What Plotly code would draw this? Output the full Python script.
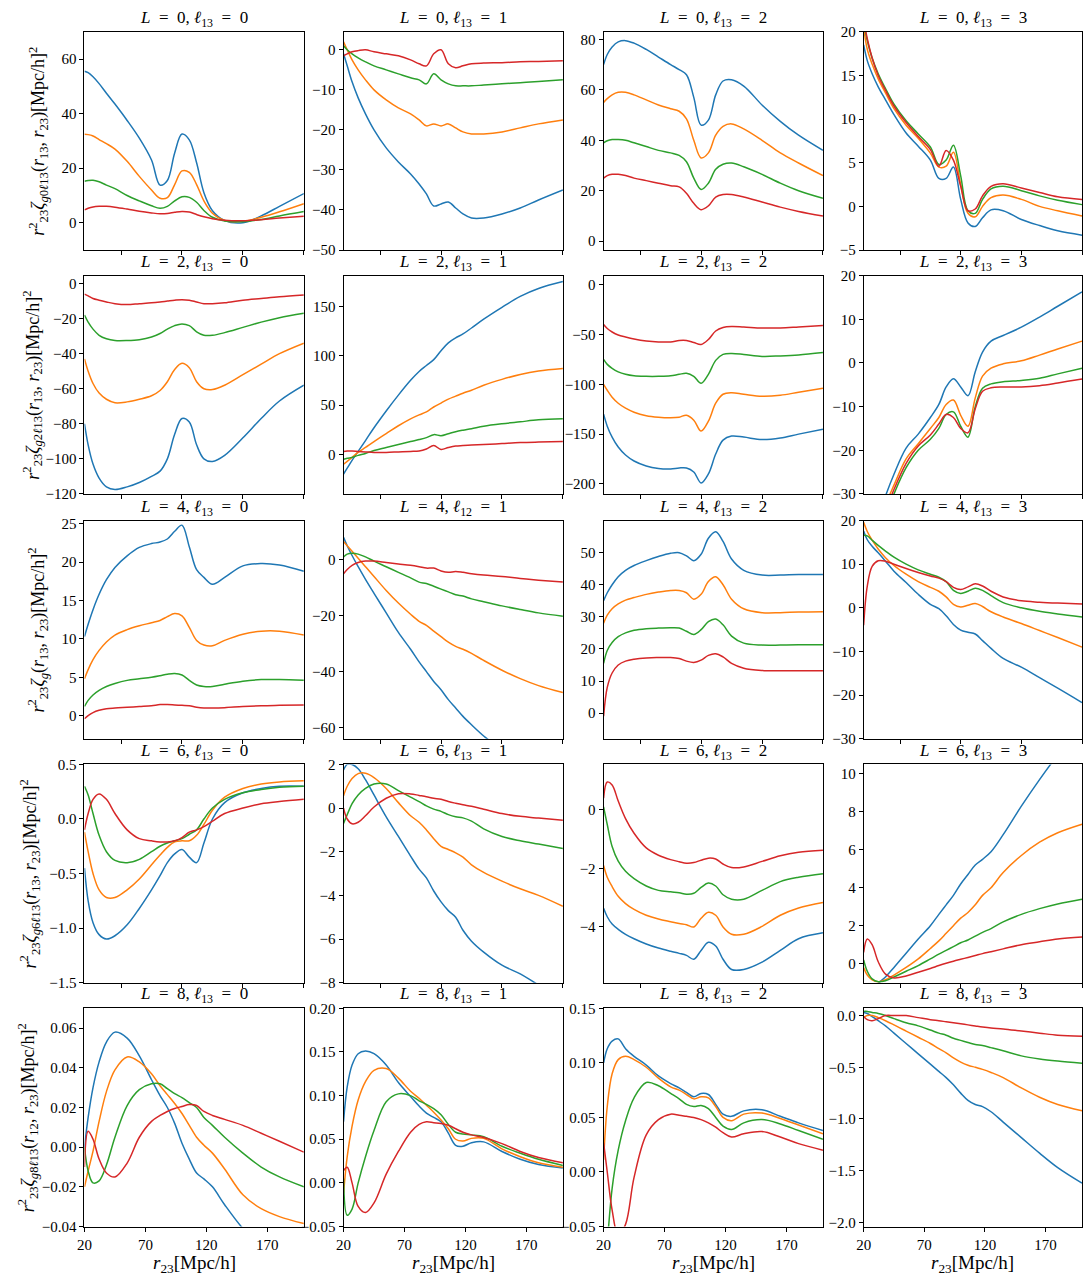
import plotly.graph_objects as go

# shared abscissa, r23 in Mpc/h
r23 = [20, 23, 27, 32, 38, 45, 55, 65, 75, 82, 88, 94, 100, 106, 112, 118, 125, 135, 150, 165, 180, 200]

# each panel: four series (blue, orange, green, red)
L0_l0 = [
    [55.5, 55.0, 53.5, 51.0, 47.5, 43.5, 37.5, 31.0, 23.0, 13.8, 15.5, 25.6, 32.5, 30.4, 22.0, 11.0, 4.4, 0.8, 0.0, 2.5, 6.0, 10.7],
    [32.4, 32.3, 31.8, 30.5, 29.0, 27.0, 22.5, 17.0, 12.0, 9.0, 9.2, 14.0, 19.0, 18.5, 14.0, 8.0, 3.5, 0.8, 0.5, 2.0, 4.0, 7.0],
    [15.2, 15.5, 15.6, 15.0, 13.8, 12.5, 10.0, 8.0, 6.2, 5.3, 6.0, 8.0, 9.5, 9.3, 7.5, 4.5, 2.0, 0.6, 0.4, 1.2, 2.5, 4.1],
    [4.7, 5.3, 5.8, 6.0, 6.0, 5.7, 5.0, 4.2, 3.6, 3.3, 3.4, 3.8, 4.1, 3.9, 3.0, 2.2, 1.5, 0.9, 0.7, 1.1, 1.7, 2.4],
]
L0_l1 = [
    [-1, -4, -8, -12, -16, -20, -24.5, -28, -31, -33.5, -36, -39, -38.5, -38, -39.5, -41, -42, -42, -41, -39.5, -37.5, -35],
    [2, 0, -2.5, -5, -7.5, -10, -12.5, -14.5, -16, -17.5, -19, -18.5, -19, -18.5, -19.5, -20.5, -21, -21, -20.5, -19.5, -18.5, -17.5],
    [1, 0, -1, -2, -3, -4, -5, -6, -7, -7.5, -8.5, -6, -7.5, -8.5, -9, -9, -9, -8.8, -8.5, -8.2, -7.9, -7.5],
    [-1.5, -1, -0.5, -0.2, 0, -0.5, -1, -1.5, -2.5, -3.5, -4, -1, 0, -3.5, -4.5, -4, -3.5, -3.3, -3.2, -3, -2.9, -2.7],
]
L0_l2 = [
    [70, 74, 77, 79, 79.5, 78.5, 76, 73, 70, 68, 66, 57, 46, 48, 58, 63.5, 64, 61.5, 54, 47.5, 42, 36],
    [55, 56.5, 58, 59, 59, 58, 56, 54, 52.5, 51.5, 48.5, 40, 33, 35, 42, 45.5, 46.5, 44.5, 40, 35, 31, 26],
    [39, 39.8, 40.3, 40.3, 40, 39, 37.5, 36, 35, 34, 31.5, 25, 20.5, 23, 28.5, 30.5, 31, 29.5, 26.5, 23, 20, 17],
    [25, 26, 26.5, 26.5, 26, 25, 24, 23, 22, 21.5, 19, 15, 12.5, 14, 17.5, 18.5, 18.5, 17.5, 15.5, 13.5, 11.8, 10],
]
L0_l3 = [
    [18.5, 16.7, 15.2, 13.7, 12.2, 10.5, 8.4, 6.9, 5.3, 3.2, 3.2, 4.5, 0.8, -1.9, -2.3, -1.3, -0.4, -0.5, -1.5, -2.2, -2.8, -3.3],
    [20.5, 18, 16.3, 14.6, 13, 11.2, 9.3, 7.8, 6.1, 4.5, 4.6, 6.2, 2.5, -0.8, -1.2, 0, 1, 1.3, 0.8, 0, -0.5, -1.1],
    [21, 19, 17, 15.2, 13.5, 11.7, 9.8, 8.3, 6.8, 4.8, 5.3, 7.0, 3.5, -0.5, -0.8, 0.8, 2, 2.3, 1.8, 1.2, 0.7, 0.2],
    [21.5, 19.2, 17, 15, 13.3, 11.5, 9.6, 8, 6.5, 4.6, 6.4, 5.3, 2.3, -0.5, -0.3, 1.2, 2.3, 2.6, 2.1, 1.6, 1.1, 0.8],
]
L2_l0 = [
    [-80, -92, -103, -111, -116, -117.5, -116, -113.5, -110, -107, -100, -86, -77, -79, -92, -100, -101.5, -98, -88, -77, -67, -58],
    [-43, -50, -57, -62.5, -66, -68, -67.5, -66, -64, -61, -56, -49, -45.5, -48, -56, -60, -60.5, -58, -52, -46, -40, -34],
    [-18, -22, -26, -29.5, -31.5, -32.5, -32.5, -32, -30.5, -28.5, -26, -24, -23, -24, -27.5, -29.5, -29.5, -28, -25, -22, -19.5, -17],
    [-6, -7, -8.5, -9.5, -10.5, -11.5, -12, -11.5, -11, -10.5, -10, -9.5, -9.2, -9.5, -10.5, -11.5, -11.5, -11, -9.5, -8.5, -7.5, -6.5],
]
L2_l1 = [
    [-20, -14, -6, 3, 14, 27, 44, 60, 75, 84, 90, 96, 105, 113, 118, 122, 128, 137, 149, 160, 168, 175],
    [-10, -7, -3, 2, 7, 13, 21, 29, 36, 40, 43, 48, 52, 56, 59, 62, 65, 70, 76, 81, 84.5, 87],
    [-5, -4, -3, -1, 1, 4, 7, 10, 13, 15, 17, 20, 19, 21, 23, 24.5, 26, 28.5, 31, 33, 35, 36],
    [3, 3.5, 3.5, 3, 2.5, 2, 2, 2.5, 3, 3.5, 5.5, 9, 5, 7, 8.5, 9, 9.5, 10, 11, 12, 12.5, 13],
]
L2_l2 = [
    [-130, -142, -153, -163, -171, -177, -182, -184.5, -185, -184, -184, -188, -199, -190, -170, -156, -152, -153, -155.5, -154, -150, -145],
    [-100, -106, -113, -119, -124, -128, -131.5, -133, -133.5, -133, -131, -136, -147, -137, -119, -110, -108.5, -110, -112, -111, -108, -104],
    [-75, -80, -84, -87.5, -90, -91.5, -92, -92, -91.5, -90, -89, -92, -99, -90, -76, -70, -69, -70, -72, -71.5, -70.5, -68],
    [-40, -44, -47.5, -50.5, -52.5, -54.5, -56.5, -57.5, -57.5, -56, -56, -58, -60, -55, -46.5, -43, -42, -42.5, -43.5, -43.5, -42.5, -41],
]
L2_l3 = [
    [-48, -44, -40, -35.5, -30.5, -25.5, -19.5, -16.3, -12.5, -9.5, -5.5, -3.6, -5.5, -7.5, -2, 2.5, 5, 6.3, 8.2, 10.5, 13, 16.3],
    [-50, -46, -42, -37.5, -32.5, -28, -22, -18.5, -15, -12.5, -9.5, -8.5, -12, -14.5, -8, -3, -1.2, -0.2, 0.5, 1.8, 3.2, 5],
    [-52, -48, -44, -40, -35, -30, -24, -20, -17.5, -15, -11.8, -11.2, -14.5, -17, -10, -5.8, -4.8, -4.3, -4, -3.5, -2.5, -1.2],
    [-51, -47, -43, -39, -34, -29, -23, -19, -16.5, -14, -11.8, -12.5, -15, -16, -10.5, -6.5, -5.7, -5.5, -5.5, -5.2, -4.6, -3.7],
]
L4_l0 = [
    [10.3, 11.9, 13.8, 15.8, 17.7, 19.3, 20.8, 21.9, 22.4, 22.6, 23.0, 24.0, 24.8, 22.0, 19.0, 18.0, 17.1, 18.0, 19.5, 19.8, 19.6, 18.8],
    [4.8, 6.0, 7.3, 8.5, 9.6, 10.5, 11.2, 11.7, 12.1, 12.4, 12.9, 13.3, 13.0, 11.5, 9.8, 9.2, 9.1, 9.8, 10.6, 11.0, 11.0, 10.5],
    [1.2, 2.0, 2.7, 3.3, 3.8, 4.2, 4.6, 4.8, 5.0, 5.2, 5.4, 5.5, 5.3, 4.6, 4.0, 3.8, 3.8, 4.1, 4.5, 4.7, 4.7, 4.6],
    [-0.4, 0.0, 0.4, 0.7, 0.9, 1.0, 1.1, 1.2, 1.3, 1.45, 1.45, 1.4, 1.35, 1.3, 1.1, 1.0, 1.0, 1.05, 1.2, 1.3, 1.35, 1.4],
]
L4_l1 = [
    [8, 5, 1.5, -2.5, -7, -12, -19, -26, -32, -36.5, -40, -43.5, -46.5, -50, -53, -56, -59, -63, -68, -73, -78, -84],
    [6.5, 5, 3, 0.5, -2.5, -6, -11, -15.5, -19.5, -22, -23.5, -25.5, -27.5, -29.5, -31, -32, -33.5, -36, -39.5, -42.5, -45, -47.5],
    [1, 2, 2.3, 2, 1, -0.5, -2.5, -4.5, -6.5, -8, -8.5, -9.5, -10.5, -11.5, -12.5, -13, -14, -15, -16.5, -17.8, -19, -20.2],
    [-5, -3.5, -2, -1, -0.5, -0.5, -1, -1.5, -2, -2.5, -3, -3, -4, -4.5, -4.2, -4.5, -5, -5.5, -6, -6.7, -7.3, -8],
]
L4_l2 = [
    [35, 37.5, 40, 42.5, 44.5, 46, 47.5, 48.8, 49.8, 50, 49, 47.5, 49.5, 54.5, 56.5, 53.5, 48, 44.5, 43, 43, 43.2, 43.2],
    [28, 30.5, 32.5, 34, 35.2, 36, 37, 37.7, 38.2, 38.2, 37.5, 35.5, 37, 41, 42.5, 40, 35.5, 32.5, 31.3, 31.3, 31.5, 31.6],
    [15.5, 19.5, 22, 23.8, 25, 25.8, 26.3, 26.5, 26.6, 26.5, 25.5, 24.5, 26, 28.5, 29.3, 27.5, 24, 21.8, 21.2, 21.2, 21.3, 21.3],
    [-1, 8, 12.5, 15, 16.2, 16.8, 17.2, 17.3, 17.3, 17, 16.2, 15.8, 16.5, 18, 18.5, 17.5, 15.5, 14, 13.3, 13.2, 13.2, 13.2],
]
L4_l3 = [
    [17.6, 15.6, 14.1, 12.6, 10.7, 8.4, 5.8, 3.1, 0.8, -0.2, -1.8, -3.8, -5.1, -5.6, -6, -7.5, -9.3, -11.6, -13.6, -16.0, -18.4, -21.7],
    [19.6, 17.5, 15.5, 13.5, 11.5, 9.7, 7.7, 6, 4.7, 3.8, 2.5, 0.8, 0.2, 0.6, 1.0, 0.3, -0.9, -2.1, -3.6, -5.2, -6.8, -9],
    [16.6, 16.5, 15.5, 14.3, 13, 11.6, 10, 8.7, 7.7, 7, 6, 4, 3.3, 3.8, 4.5, 4, 2.8, 1.2, 0, -0.8, -1.4, -2.1],
    [-4, 5, 9.5, 10.8, 10.7, 10, 9, 8.1, 7.3, 6.8, 6, 4.7, 4.2, 4.8, 5.5, 5, 3.8, 2.5, 1.6, 1.3, 1.1, 0.9],
]
L6_l0 = [
    [-0.45, -0.75, -0.95, -1.06, -1.1, -1.07, -0.97, -0.82, -0.65, -0.52, -0.4, -0.32, -0.28, -0.35, -0.4, -0.22, 0.0, 0.15, 0.24, 0.28, 0.3, 0.3],
    [-0.12, -0.3, -0.5, -0.65, -0.72, -0.72, -0.65, -0.55, -0.42, -0.33, -0.26, -0.21, -0.2, -0.2, -0.15, -0.05, 0.08, 0.2, 0.28, 0.32, 0.34, 0.35],
    [0.3, 0.22, 0.05, -0.15, -0.3, -0.38, -0.4, -0.37, -0.3, -0.25, -0.22, -0.2, -0.18, -0.14, -0.1, 0.0, 0.1, 0.18, 0.24, 0.27, 0.29, 0.3],
    [-0.1, 0.05, 0.18, 0.23, 0.18, 0.05, -0.1, -0.18, -0.2, -0.21, -0.21, -0.2, -0.17, -0.12, -0.1, -0.07, -0.02, 0.05, 0.1, 0.14, 0.16, 0.18],
]
L6_l1 = [
    [1.75, 2.0, 2.0, 1.8, 1.3, 0.6, -0.4, -1.3, -2.2, -2.8, -3.2, -3.8, -4.3, -4.7, -5.0, -5.6, -6.1, -6.6, -7.2, -7.6, -8.1, -8.6],
    [0.57, 1.0, 1.35, 1.58, 1.6, 1.4, 0.9, 0.25, -0.35, -0.65, -1.0, -1.4, -1.75, -1.9, -2.05, -2.25, -2.6, -2.95, -3.35, -3.7, -4.0, -4.5],
    [-0.7, -0.3, 0.2, 0.6, 0.9, 1.1, 1.1, 0.8, 0.5, 0.3, 0.1, -0.05, -0.15, -0.3, -0.4, -0.45, -0.6, -0.95, -1.3, -1.5, -1.65, -1.85],
    [0.0, -0.5, -0.72, -0.65, -0.35, 0.05, 0.45, 0.66, 0.65, 0.58, 0.52, 0.45, 0.4, 0.3, 0.22, 0.15, 0.08, -0.05, -0.25, -0.38, -0.46, -0.56],
]
L6_l2 = [
    [-3.36, -3.65, -3.9, -4.08, -4.25, -4.4, -4.58, -4.72, -4.83, -4.9, -4.97, -5.1, -4.8, -4.52, -4.65, -5.1, -5.45, -5.45, -5.2, -4.8, -4.4, -4.2],
    [-1.9, -2.3, -2.62, -2.95, -3.2, -3.4, -3.6, -3.73, -3.82, -3.88, -3.92, -4.0, -3.7, -3.5, -3.6, -4.0, -4.25, -4.25, -3.98, -3.6, -3.35, -3.16],
    [0.1, -0.5, -1.25, -1.75, -2.1, -2.35, -2.6, -2.75, -2.8, -2.83, -2.88, -2.85, -2.65, -2.5, -2.6, -2.9, -3.05, -3.05, -2.75, -2.45, -2.3, -2.18],
    [0.4, 0.95, 0.85, 0.3, -0.3, -0.8, -1.3, -1.55, -1.7, -1.77, -1.82, -1.8, -1.72, -1.65, -1.68, -1.85, -1.97, -1.95, -1.76, -1.57, -1.45, -1.38],
]
L6_l3 = [
    [-2.2, -1.9, -1.5, -1.05, -0.7, -0.2, 0.55, 1.3, 2.0, 2.6, 3.1, 3.6, 4.2, 4.7, 5.2, 5.5, 5.9, 6.8, 8.3, 9.7, 11.0, 12.5],
    [-0.2, -0.6, -0.85, -0.95, -0.85, -0.6, -0.2, 0.25, 0.8, 1.2, 1.6, 2.0, 2.4, 2.7, 3.1, 3.6, 4.0, 4.8, 5.7, 6.4, 6.9, 7.35],
    [0.2, -0.4, -0.8, -0.95, -0.9, -0.7, -0.4, -0.1, 0.25, 0.5, 0.7, 0.9, 1.1, 1.25, 1.45, 1.65, 1.85, 2.2, 2.6, 2.9, 3.15, 3.4],
    [0.6, 1.3, 1.0, 0.1, -0.55, -0.75, -0.65, -0.45, -0.25, -0.1, 0.02, 0.13, 0.23, 0.33, 0.43, 0.53, 0.63, 0.78, 1.0, 1.15, 1.3, 1.4],
]
L8_l0 = [
    [0.0, 0.015, 0.03, 0.043, 0.053, 0.058, 0.055, 0.046, 0.034, 0.026, 0.02, 0.012, 0.002, -0.006, -0.013, -0.016, -0.02, -0.029, -0.041, -0.05, -0.058, -0.065],
    [-0.02, -0.012, -0.002, 0.013, 0.028, 0.039, 0.0455, 0.043, 0.037, 0.031, 0.0265, 0.022, 0.017, 0.011, 0.005, 0.001, -0.003, -0.011, -0.024, -0.031, -0.035, -0.0385],
    [0.0, -0.012, -0.018, -0.017, -0.009, 0.005, 0.021, 0.029, 0.032, 0.032, 0.0295, 0.027, 0.025, 0.0225, 0.02, 0.015, 0.011, 0.005, -0.003, -0.01, -0.015, -0.02],
    [-0.01, 0.008, 0.004, -0.006, -0.013, -0.015, -0.008, 0.005, 0.013, 0.016, 0.018, 0.0195, 0.0205, 0.0215, 0.021, 0.018, 0.016, 0.014, 0.011, 0.007, 0.003, -0.0025],
]
L8_l1 = [
    [0.07, 0.11, 0.135, 0.148, 0.151, 0.148, 0.135, 0.115, 0.099, 0.088, 0.08, 0.075, 0.07, 0.057, 0.043, 0.042, 0.046, 0.047, 0.036, 0.027, 0.021, 0.017],
    [-0.012, 0.03, 0.065, 0.095, 0.116, 0.129, 0.131, 0.12, 0.105, 0.097, 0.089, 0.081, 0.072, 0.062, 0.05, 0.048, 0.051, 0.051, 0.039, 0.03, 0.023, 0.018],
    [0.005, -0.037, -0.03, 0.0, 0.03, 0.06, 0.093, 0.102, 0.1, 0.094, 0.09, 0.085, 0.078, 0.067, 0.058, 0.056, 0.055, 0.053, 0.042, 0.034, 0.027, 0.02],
    [0.014, 0.018, 0.0, -0.027, -0.034, -0.023, 0.01, 0.036, 0.058, 0.067, 0.07, 0.069, 0.068, 0.066, 0.062, 0.058, 0.055, 0.052, 0.045, 0.036, 0.029, 0.023],
]
L8_l2 = [
    [0.1, 0.113, 0.12, 0.122, 0.113, 0.106, 0.098, 0.088, 0.081, 0.077, 0.073, 0.069, 0.072, 0.071, 0.062, 0.053, 0.051, 0.056, 0.057, 0.051, 0.045, 0.038],
    [0.011, 0.06, 0.09, 0.103, 0.106, 0.103, 0.096, 0.086, 0.078, 0.075, 0.071, 0.067, 0.069, 0.068, 0.06, 0.05, 0.047, 0.053, 0.054, 0.049, 0.043, 0.035],
    [-0.1, -0.065, -0.015, 0.02, 0.047, 0.068, 0.082, 0.079, 0.072, 0.067, 0.062, 0.06, 0.061, 0.058, 0.05, 0.042, 0.039, 0.045, 0.048, 0.044, 0.038, 0.03],
    [0.027, 0.0, -0.035, -0.058, -0.048, -0.005, 0.034, 0.048, 0.053, 0.052, 0.051, 0.05, 0.048, 0.045, 0.041, 0.036, 0.032, 0.035, 0.037, 0.032, 0.026, 0.02],
]
L8_l3 = [
    [0.03, 0.02, -0.01, -0.05, -0.1, -0.17, -0.27, -0.37, -0.47, -0.54, -0.6, -0.67, -0.75, -0.82, -0.86, -0.88, -0.93, -1.03, -1.18, -1.33, -1.47, -1.62],
    [-0.02, 0.0, 0.0, -0.02, -0.05, -0.09, -0.15, -0.21, -0.27, -0.32, -0.36, -0.41, -0.45, -0.48, -0.5, -0.52, -0.55, -0.6, -0.7, -0.79, -0.86, -0.92],
    [0.04, 0.04, 0.03, 0.02, 0.0, -0.03, -0.07, -0.1, -0.14, -0.17, -0.19, -0.22, -0.24, -0.26, -0.28, -0.29, -0.31, -0.34, -0.39, -0.42, -0.44, -0.46],
    [-0.01, -0.04, -0.05, -0.03, 0.0, 0.0, 0.0, -0.02, -0.04, -0.05, -0.06, -0.07, -0.08, -0.09, -0.1, -0.11, -0.12, -0.13, -0.15, -0.17, -0.19, -0.2],
]

colors = ["#1f77b4", "#ff7f0e", "#2ca02c", "#d62728"]

# (series, L, ell label, l13, y range, y ticks, tick format)
panels = [
    (L0_l0, 0, "13", 0, [-10, 70], [0, 20, 40, 60], ""),
    (L0_l1, 0, "13", 1, [-50, 4.5], [-50, -40, -30, -20, -10, 0], ""),
    (L0_l2, 0, "13", 2, [-3.5, 83], [0, 20, 40, 60, 80], ""),
    (L0_l3, 0, "13", 3, [-5, 20], [-5, 0, 5, 10, 15, 20], ""),
    (L2_l0, 2, "13", 0, [-120, 4.5], [-120, -100, -80, -60, -40, -20, 0], ""),
    (L2_l1, 2, "13", 1, [-40, 181], [0, 50, 100, 150], ""),
    (L2_l2, 2, "13", 2, [-210, 9], [-200, -150, -100, -50, 0], ""),
    (L2_l3, 2, "13", 3, [-30, 20], [-30, -20, -10, 0, 10, 20], ""),
    (L4_l0, 4, "13", 0, [-3, 25.4], [0, 5, 10, 15, 20, 25], ""),
    (L4_l1, 4, "12", 1, [-64, 14], [-60, -40, -20, 0], ""),
    (L4_l2, 4, "13", 2, [-8, 60], [0, 10, 20, 30, 40, 50], ""),
    (L4_l3, 4, "13", 3, [-30, 20], [-30, -20, -10, 0, 10, 20], ""),
    (L6_l0, 6, "13", 0, [-1.5, 0.5], [-1.5, -1.0, -0.5, 0.0, 0.5], ".1f"),
    (L6_l1, 6, "13", 1, [-8, 2], [-8, -6, -4, -2, 0, 2], ""),
    (L6_l2, 6, "13", 2, [-5.9, 1.55], [-4, -2, 0], ""),
    (L6_l3, 6, "13", 3, [-1, 10.5], [0, 2, 4, 6, 8, 10], ""),
    (L8_l0, 8, "13", 0, [-0.04, 0.07], [-0.04, -0.02, 0.0, 0.02, 0.04, 0.06], ".2f"),
    (L8_l1, 8, "13", 1, [-0.05, 0.2], [-0.05, 0.0, 0.05, 0.1, 0.15, 0.2], ".2f"),
    (L8_l2, 8, "13", 2, [-0.05, 0.15], [-0.05, 0.0, 0.05, 0.1, 0.15], ".2f"),
    (L8_l3, 8, "13", 3, [-2.04, 0.07], [-2.0, -1.5, -1.0, -0.5, 0.0], ".1f"),
]

ylabels = [
    "<i>r</i><sup>2</sup><sub>23</sub><i>ζ</i><sub><i>g</i>0<i>ℓ</i>13</sub>(<i>r</i><sub>13</sub>, <i>r</i><sub>23</sub>)[Mpc/h]<sup>2</sup>",
    "<i>r</i><sup>2</sup><sub>23</sub><i>ζ</i><sub><i>g</i>2<i>ℓ</i>13</sub>(<i>r</i><sub>13</sub>, <i>r</i><sub>23</sub>)[Mpc/h]<sup>2</sup>",
    "<i>r</i><sup>2</sup><sub>23</sub><i>ζ</i><sub><i>g</i></sub>(<i>r</i><sub>13</sub>, <i>r</i><sub>23</sub>)[Mpc/h]<sup>2</sup>",
    "<i>r</i><sup>2</sup><sub>23</sub><i>ζ</i><sub><i>g</i>6<i>ℓ</i>13</sub>(<i>r</i><sub>13</sub>, <i>r</i><sub>23</sub>)[Mpc/h]<sup>2</sup>",
    "<i>r</i><sup>2</sup><sub>23</sub><i>ζ</i><sub><i>g</i>8<i>ℓ</i>13</sub>(<i>r</i><sub>12</sub>, <i>r</i><sub>23</sub>)[Mpc/h]<sup>2</sup>",
]

# the page keeps its default 8px body margin, so the figure is 16px smaller
# than the window and every position below is in figure pixels
W, H = 1075, 1268
col_left = [69, 330, 592, 854]
col_w = [221, 221, 221, 220]
row_top = [16, 263, 511, 758, 1005]
ph = 221
ylabel_x = [23, 17, 22, 14, 12]
FONT = "Liberation Serif"
SP = "\u2002"

fig = go.Figure()
annotations = []

for i, (series, L, sub, l13, yr, ytv, yfmt) in enumerate(panels):
    r, c = divmod(i, 4)
    n = i + 1
    sfx = "" if n == 1 else str(n)
    for s, col in zip(series, colors):
        fig.add_trace(go.Scatter(
            x=r23, y=s, mode="lines",
            line=dict(color=col, width=1.5, shape="spline", smoothing=1.0),
            xaxis="x" + sfx, yaxis="y" + sfx,
            showlegend=False, hoverinfo="skip",
        ))

    pw = col_w[c]
    x0 = col_left[c] / W
    x1 = (col_left[c] + pw) / W
    y1 = 1 - row_top[r] / H
    y0 = 1 - (row_top[r] + ph) / H
    bottom = r == 4

    fig.layout["xaxis" + sfx] = dict(
        domain=[x0, x1], anchor="y" + sfx, range=[20, 200],
        tickvals=[20, 70, 120, 170] if bottom else [50, 100, 150, 200],
        showticklabels=bottom,
        ticks="outside", ticklen=4, tickwidth=1, tickcolor="black",
        showline=True, linecolor="black", linewidth=1, mirror=True,
        showgrid=False, zeroline=False,
        tickfont=dict(family=FONT, size=15, color="black"),
    )
    fig.layout["yaxis" + sfx] = dict(
        domain=[y0, y1], anchor="x" + sfx, range=yr,
        tickvals=ytv, tickformat=yfmt,
        ticks="outside", ticklen=4, tickwidth=1, tickcolor="black",
        showline=True, linecolor="black", linewidth=1, mirror=True,
        showgrid=False, zeroline=False,
        tickfont=dict(family=FONT, size=15, color="black"),
    )

    annotations.append(dict(
        text=f"<i>L</i>{SP}={SP}{L}, <i>ℓ</i><sub>{sub}</sub>{SP}={SP}{l13}",
        x=(col_left[c] + pw / 2) / W, y=1 - (row_top[r] - 13) / H,
        xref="paper", yref="paper", xanchor="center", yanchor="middle",
        showarrow=False, font=dict(family=FONT, size=17, color="black"),
    ))
    if bottom:
        annotations.append(dict(
            text="<i>r</i><sub>23</sub>[Mpc/h]",
            x=(col_left[c] + pw / 2) / W, y=1 - 1250 / H,
            xref="paper", yref="paper", xanchor="center", yanchor="top",
            showarrow=False, font=dict(family=FONT, size=19, color="black"),
        ))

for r in range(5):
    annotations.append(dict(
        text=ylabels[r], textangle=-90,
        x=ylabel_x[r] / W, y=1 - (row_top[r] + ph / 2) / H,
        xref="paper", yref="paper", xanchor="center", yanchor="middle",
        showarrow=False, font=dict(family=FONT, size=18, color="black"),
    ))

fig.update_layout(
    width=W, height=H, autosize=False,
    margin=dict(l=0, r=0, t=0, b=0),
    paper_bgcolor="white", plot_bgcolor="white",
    annotations=annotations,
)

fig.write_html("out.html", config={"displayModeBar": False})
